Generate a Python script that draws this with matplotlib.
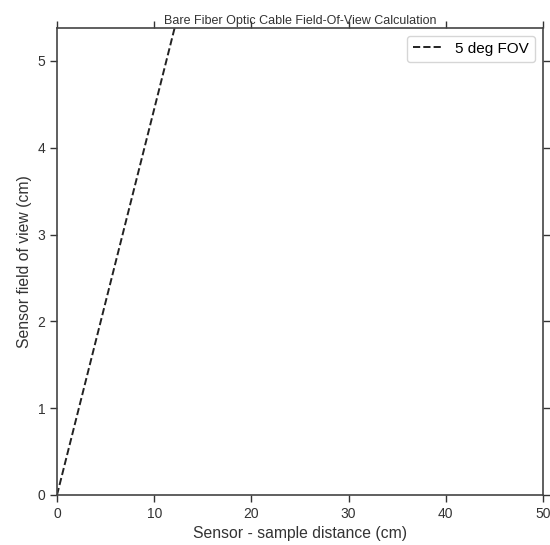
import matplotlib.pyplot as plt

plt.rcParams['font.family'] = ['Liberation Sans', 'DejaVu Sans']

# values
distance_cm = [0, 12.1]
fov_cm = [0, 5.38]
x_ticks = [0, 10, 20, 30, 40, 50]
y_ticks = [0, 1, 2, 3, 4, 5]

fig = plt.figure(figsize=(5.5, 5.45), dpi=100)
ax = fig.add_axes([57 / 550, 50 / 545, 486 / 550, 467 / 545])

ax.plot(distance_cm, fov_cm, '--', color='#222222', lw=1.4, label='5 deg FOV')

ax.set_xlim(0, 50)
ax.set_ylim(0, 5.38)
ax.set_xticks(x_ticks)
ax.set_yticks(y_ticks)
ax.tick_params(direction='out', length=5, width=1, top=True, right=True,
               labelsize=10, colors='#333333')
for s in ax.spines.values():
    s.set_linewidth(1.2)
    s.set_color('#444444')

ax.set_xlabel('Sensor - sample distance (cm)', fontsize=11.3, color='#333333')
ax.set_ylabel('Sensor field of view (cm)', fontsize=11.3, color='#333333')
ax.set_title('Bare Fiber Optic Cable Field-Of-View Calculation', fontsize=9,
             color='#333333', pad=3)
ax.legend(loc='upper right', fontsize=11, handlelength=2, frameon=True,
          edgecolor='#cccccc', fancybox=True)

plt.savefig('out.png', dpi=100)
